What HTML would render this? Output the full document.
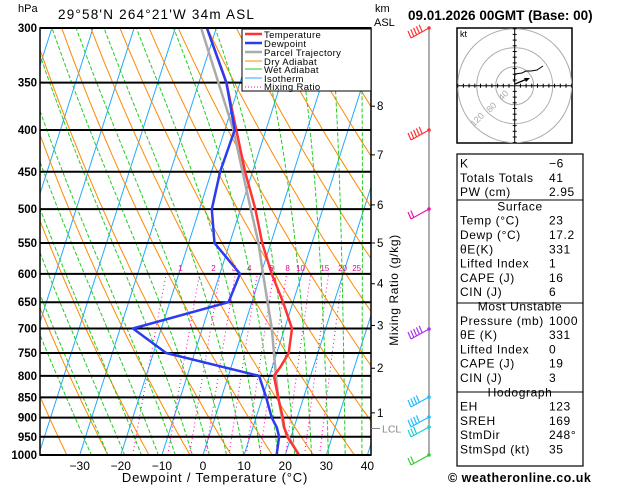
<!DOCTYPE html>
<html><head><meta charset="utf-8"><style>
body{margin:0;background:#fff;width:629px;height:486px;overflow:hidden;font-family:"Liberation Sans",sans-serif}
svg{display:block}
text{font-family:"Liberation Sans",sans-serif}
</style></head><body>
<svg id="s" width="629" height="486" viewBox="0 0 629 486">
<defs><clipPath id="pc"><rect x="40" y="28" width="331" height="427"/></clipPath></defs>
<g id="bg" clip-path="url(#pc)"></g>
<g id="plines"></g>
<g id="prof" clip-path="url(#pc)"></g>
<rect x="40" y="28" width="331" height="427" fill="none" stroke="#000" stroke-width="1.5"/>
<g id="axes"></g>
<text x="18" y="12" font-size="11">hPa</text>
<text x="58" y="19" font-size="13.5" letter-spacing="1.2">29°58'N  264°21'W  34m  ASL</text>
<text x="375" y="12" font-size="11">km</text>
<text x="374" y="26" font-size="11">ASL</text>
<text x="408" y="20" font-size="13.5" font-weight="bold">09.01.2026  00GMT  (Base: 00)</text>
<text x="215" y="482" font-size="13" letter-spacing="0.8" text-anchor="middle">Dewpoint / Temperature (°C)</text>
<text transform="translate(398,290) rotate(-90)" font-size="12" letter-spacing="0.6" text-anchor="middle">Mixing Ratio (g/kg)</text>
<g>
<rect x="242" y="29" width="129" height="62" fill="#fff" stroke="#000" stroke-width="1"/>
<g font-size="9.5" letter-spacing="0.35">
<line x1="245" y1="34" x2="262" y2="34" stroke="#f33" stroke-width="2.5"/><text x="264" y="38">Temperature</text>
<line x1="245" y1="43" x2="262" y2="43" stroke="#2a3cf0" stroke-width="2.5"/><text x="264" y="47">Dewpoint</text>
<line x1="245" y1="52" x2="262" y2="52" stroke="#aaa" stroke-width="2.5"/><text x="264" y="56">Parcel Trajectory</text>
<line x1="245" y1="61" x2="262" y2="61" stroke="#f80" stroke-width="1"/><text x="264" y="65">Dry Adiabat</text>
<line x1="245" y1="69" x2="262" y2="69" stroke="#2c2" stroke-width="1"/><text x="264" y="73">Wet Adiabat</text>
<line x1="245" y1="78" x2="262" y2="78" stroke="#2af" stroke-width="1"/><text x="264" y="82">Isotherm</text>
<line x1="245" y1="87" x2="262" y2="87" stroke="#f0a" stroke-width="1" stroke-dasharray="1,2"/><text x="264" y="90">Mixing Ratio</text>
</g></g>
<g id="wind"></g>
<g id="hodo"></g>
<g font-size="12" letter-spacing="0.6">
<rect x="457" y="154" width="126" height="312" fill="#fff" stroke="#000" stroke-width="1.2"/>
<line x1="457" y1="200" x2="583" y2="200" stroke="#000"/>
<line x1="457" y1="303" x2="583" y2="303" stroke="#000"/>
<line x1="457" y1="392" x2="583" y2="392" stroke="#000"/>
<g id="tbl"></g>
</g>
<text x="448" y="482" font-size="12.5" font-weight="bold" letter-spacing="0.5">© weatheronline.co.uk</text>
</svg>
<script>
const tempP=[1000,950,925,900,850,800,780,750,700,650,600,550,500,450,400,350,300];
const tempT=[23.4,19.1,17.6,16.5,13.8,11.1,12.0,12.9,11.8,7.6,2.6,-2.1,-6.4,-11.8,-17.2,-23.3,-32.3];
const dewP=[1000,950,925,900,850,800,750,700,650,600,550,500,450,400,350,300];
const dewT=[17.9,17.1,15.8,13.8,10.9,7.5,-16.9,-26.9,-5.7,-5.1,-13.7,-17,-17.9,-17.6,-23.3,-32.3];
const parP=[1000,925,850,800,700,600,550,500,400,300];
const parT=[23.2,17.5,13.8,11.6,6.9,0.5,-3,-7.5,-17.9,-33.7];
const pLevels=[300,350,400,450,500,550,600,650,700,750,800,850,900,950,1000];
const xTicks=[-30,-20,-10,0,10,20,30,40];
const kmLabels=["8","7","6","5","4","3","2","1"];
const kmPress=[374,429,494,550,617,694,783,888];
const mixR=[1,2,3,4,6,8,10,15,20,25];
const tblRows=[["K","−6"],["Totals Totals","41"],["PW (cm)","2.95"],["#Surface"],["Temp (°C)","23"],["Dewp (°C)","17.2"],["θE(K)","331"],["Lifted Index","1"],["CAPE (J)","16"],["CIN (J)","6"],["#Most Unstable"],["Pressure (mb)","1000"],["θE (K)","331"],["Lifted Index","0"],["CAPE (J)","19"],["CIN (J)","3"],["#Hodograph"],["EH","123"],["SREH","169"],["StmDir","248°"],["StmSpd (kt)","35"]];
const NS="http://www.w3.org/2000/svg";
function yP(p){return 28+Math.log(p/300)/Math.log(1000/300)*427;}
function xT(t,p){return 203+4.11*t+0.32*(455-yP(p));}
function mk(tag,at,par){const e=document.createElementNS(NS,tag);for(const k in at)e.setAttribute(k,at[k]);par.appendChild(e);return e;}
const bg=document.getElementById('bg');
for(let t=-120;t<=50;t+=10){const l=mk('line',{x1:xT(t,1050),y1:yP(1050),x2:xT(t,280),y2:yP(280),stroke:'#2af','stroke-width':1},bg);}
for(let th=230;th<=480;th+=10){let d='';for(let p=1050;p>=280;p-=10){const t=th*Math.pow(p/1000,0.286)-273.15;d+=(d?'L':'M')+xT(t,p).toFixed(1)+','+yP(p).toFixed(1);}const e=mk('path',{d:d,fill:'none',stroke:'#f80','stroke-width':1},bg);}
function es(t){return 6.112*Math.exp(17.67*t/(t+243.5));}
for(let t0=-24;t0<=40;t0+=4){let T=t0+273.15,d='';for(let p=1050;p>=280;p-=5){const t=T-273.15;d+=(d?'L':'M')+xT(t,p).toFixed(1)+','+yP(p).toFixed(1);const rs=0.622*es(t)/(p-es(t));const dTdp=(287*T+2.5e6*rs)/(p*(1005+2.5e6*2.5e6*rs*0.622/(287*T*T)));T-=dTdp*5;}
const e=mk('path',{d:d,fill:'none',stroke:'#2c2','stroke-width':1,'stroke-dasharray':'4,2'},bg);}
const ax=document.getElementById('axes');
mixR.forEach(w=>{let d='';for(let p=1000;p>=600;p-=10){const e=w*p/(622+w);const L=Math.log(e/6.112);const t=243.5*L/(17.67-L);d+=(d?'L':'M')+xT(t,p).toFixed(1)+','+yP(p).toFixed(1);}const el=mk('path',{d:d,fill:'none',stroke:'#f0a','stroke-width':1,'stroke-dasharray':'1,3'},bg);
const e=w*600/(622+w);const L=Math.log(e/6.112);const t=243.5*L/(17.67-L);const tx=mk('text',{x:xT(t,600)+14,y:yP(600)-3,'font-size':8,fill:'#e0108a','text-anchor':'middle'},ax);tx.textContent=w;});
const pl=document.getElementById('plines');
pLevels.forEach(p=>{const l=mk('line',{x1:40,y1:yP(p),x2:371,y2:yP(p),stroke:'#000','stroke-width':2},pl);
const t=mk('text',{x:37,y:yP(p)+4,'font-size':11.5,'font-weight':'bold','text-anchor':'end'},ax);t.textContent=p;});
xTicks.forEach(v=>{const t=mk('text',{x:xT(v,1000),y:470,'font-size':12,'text-anchor':'middle'},ax);t.textContent=v<0?'−'+(-v):v;});
kmLabels.forEach((k,i)=>{const y=yP(kmPress[i]);mk('line',{x1:371,y1:y,x2:375,y2:y,stroke:'#000'},ax);const t=mk('text',{x:377,y:y+4,'font-size':11.5},ax);t.textContent=k;});
{const y=yP(928);mk('line',{x1:371,y1:y,x2:380,y2:y,stroke:'#888'},ax);const t=mk('text',{x:382,y:y+4,'font-size':10.5,fill:'#888'},ax);t.textContent='LCL';}
const pr=document.getElementById('prof');
function line(P,T,col,name,w){let d='';P.forEach((p,i)=>{d+=(i?'L':'M')+xT(T[i],p).toFixed(1)+','+yP(p).toFixed(1);});const e=mk('path',{d:d,fill:'none',stroke:col,'stroke-width':w,'stroke-linejoin':'round'},pr);}
line(parP,parT,'#aaa','parcel-trajectory',2.5);
line(tempP,tempT,'#f33','temperature-line',2.5);
line(dewP,dewT,'#2a3cf0','dewpoint-line',2.5);
const wg=document.getElementById('wind');
mk('line',{x1:429,y1:28,x2:429,y2:455,stroke:'#777','stroke-width':1.2},wg);
const barbs=[[28,'#f33',5],[130,'#f33',5],[209,'#e1a',2],[329,'#a3e',5],[397,'#2bf',4],[417,'#2bf',4],[427,'#2cc',3],[455,'#3c3',2]];
barbs.forEach(b=>{const y=b[0],c=b[1];const g=mk('g',{stroke:c,'stroke-width':1.2,fill:'none'},wg);
const ex=411,ey=y+10;mk('line',{x1:429,y1:y,x2:ex,y2:ey},g);for(let i=0;i<b[2];i++){const bx=ex+i*2.8,by=ey-i*1.55;mk('line',{x1:bx,y1:by,x2:bx-3,y2:by-7},g);}mk('circle',{cx:429,cy:y,r:1.2,fill:c},g);});
const hg=document.getElementById('hodo');
mk('rect',{x:457,y:28,width:115,height:115,fill:'#fff',stroke:'#000','stroke-width':1.5},hg);
const cx=514.7,cy=85.7;
[19,38,57].forEach(r=>mk('circle',{cx:cx,cy:cy,r:r,fill:'none',stroke:'#aaa'},hg));
mk('line',{x1:457,y1:cy,x2:572,y2:cy,stroke:'#000'},hg);mk('line',{x1:cx,y1:28,x2:cx,y2:143,stroke:'#000'},hg);
for(let i=-10;i<=10;i++){if(!i)continue;const d=i*5.7;mk('line',{x1:cx+d,y1:cy-2,x2:cx+d,y2:cy+2,stroke:'#000'},hg);mk('line',{x1:cx-2,y1:cy+d,x2:cx+2,y2:cy+d,stroke:'#000'},hg);}
mk('text',{x:460,y:37,'font-size':9},hg).textContent='kt';
[['40',502,101],['80',490,113],['120',474,127]].forEach(a=>mk('text',{x:a[1],y:a[2],'font-size':9,fill:'#aaa',transform:`rotate(-45 ${a[1]} ${a[2]})`},hg).textContent=a[0]);
mk('path',{d:'M514,82 L515,74 L522,73 L526,71 L531,71 L537,70 L543,66',fill:'none',stroke:'#000','stroke-width':1},hg);
mk('path',{d:'M515,84 L527,79',fill:'none',stroke:'#000','stroke-width':1.3},hg);
mk('path',{d:'M530,78 L524,78 L526,82 Z',fill:'#000'},hg);
const tb=document.getElementById('tbl');
tblRows.forEach((r,i)=>{const y=167.5+i*14.3;if(r[0][0]==='#'){const t=mk('text',{x:520,y:y,'text-anchor':'middle'},tb);t.textContent=r[0].slice(1);}else{const a=mk('text',{x:460,y:y},tb);a.textContent=r[0];const b=mk('text',{x:549,y:y},tb);b.textContent=r[1];}});
</script>
</body></html>
